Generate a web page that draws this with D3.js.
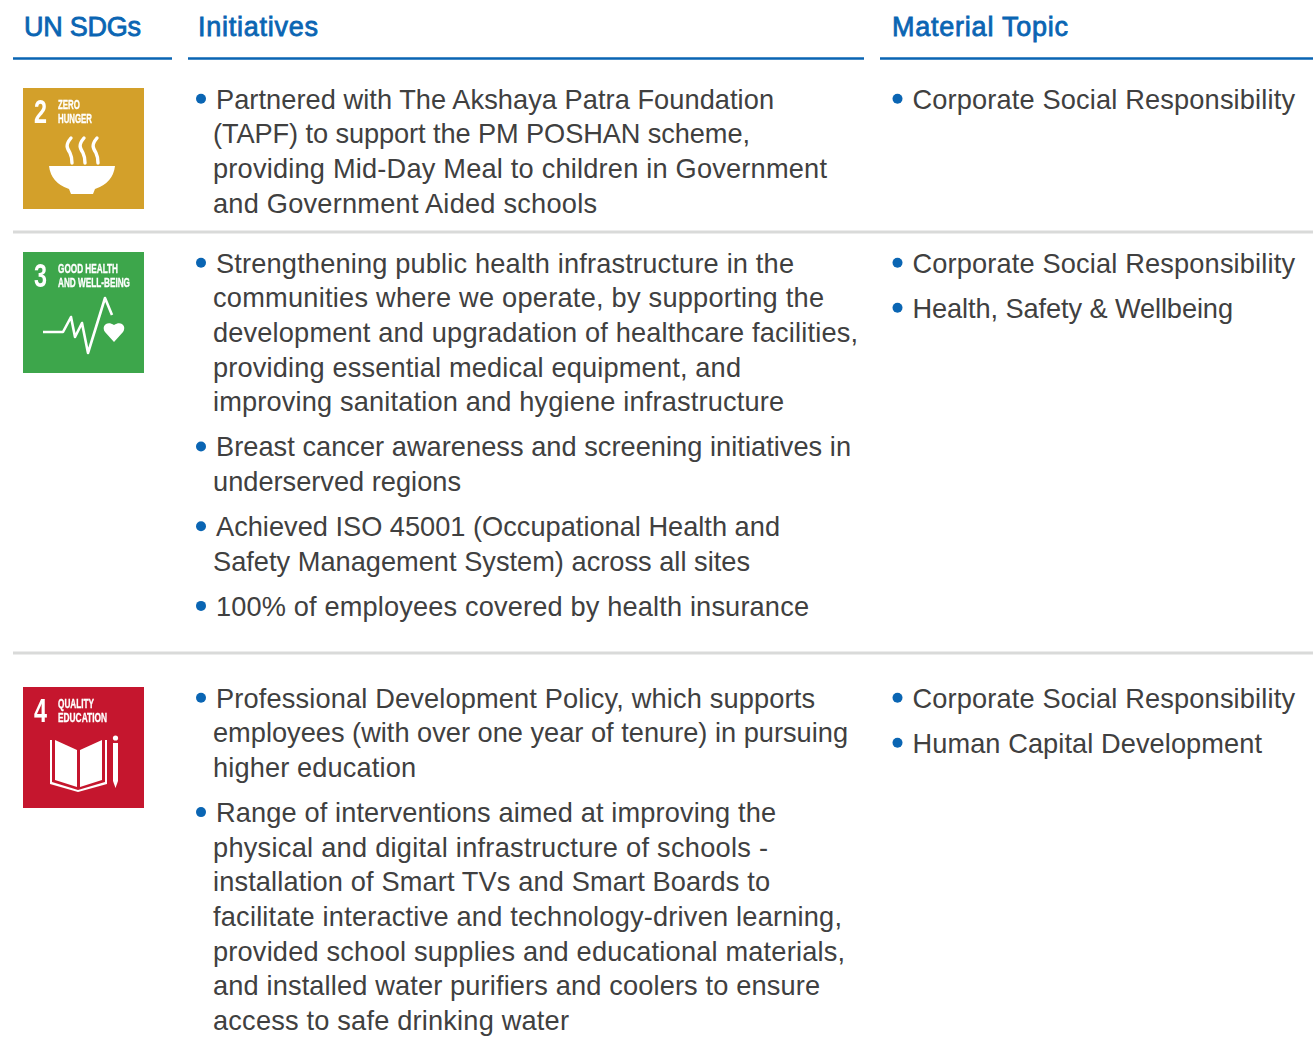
<!DOCTYPE html>
<html>
<head>
<meta charset="utf-8">
<style>
  html, body { margin: 0; padding: 0; background: #fff; }
  svg { display: block; }
  text { font-family: "Liberation Sans", Arial, sans-serif; }
</style>
</head>
<body>
<div id="chart"></div>
<script src="https://cdn.jsdelivr.net/npm/d3@7"></script>
<script>
var columns = ["UN SDGs", "Initiatives", "Material Topic"];

var sdgNumbers = ["2", "3", "4"];
var sdgTitles = [["ZERO", "HUNGER"], ["GOOD HEALTH", "AND WELL-BEING"], ["QUALITY", "EDUCATION"]];
var sdgColors = ["#d3a029", "#3ea64c", "#c5192d"];

var initiatives2 = [
    ["Partnered with The Akshaya Patra Foundation", "(TAPF) to support the PM POSHAN scheme,", "providing Mid-Day Meal to children in Government", "and Government Aided schools"]
];
var initiatives3 = [
    ["Strengthening public health infrastructure in the", "communities where we operate, by supporting the", "development and upgradation of healthcare facilities,", "providing essential medical equipment, and", "improving sanitation and hygiene infrastructure"],
    ["Breast cancer awareness and screening initiatives in", "underserved regions"],
    ["Achieved ISO 45001 (Occupational Health and", "Safety Management System) across all sites"],
    ["100% of employees covered by health insurance"]
];
var initiatives4 = [
    ["Professional Development Policy, which supports", "employees (with over one year of tenure) in pursuing", "higher education"],
    ["Range of interventions aimed at improving the", "physical and digital infrastructure of schools -", "installation of Smart TVs and Smart Boards to", "facilitate interactive and technology-driven learning,", "provided school supplies and educational materials,", "and installed water purifiers and coolers to ensure", "access to safe drinking water"]
];
var topics2 = ["Corporate Social Responsibility"];
var topics3 = ["Corporate Social Responsibility", "Health, Safety & Wellbeing"];
var topics4 = ["Corporate Social Responsibility", "Human Capital Development"];

var initiatives = [initiatives2, initiatives3, initiatives4];
var topics = [topics2, topics3, topics4];

var width = 1313, height = 1063;
var blue = "#0a65b3", ink = "#404040", rule = "#d9dad9";
var fontSize = 27.2, lineHeight = 34.7, bulletGap = 45;
var rowTop = [99, 263, 698];    // middle of the first text line in each row
var tileTop = [88, 252, 687];
var tileSize = 121;
var colStart = [13, 188, 880], colEnd = [172, 864, 1313];
var headerX = [24, 198, 892], headerWidth = [117, 120, 176];

// the source font sets a little wider or narrower line by line, so fit each line to its right edge
var lineEnd = {
    "Partnered with The Akshaya Patra Foundation": 774,
    "(TAPF) to support the PM POSHAN scheme,": 750,
    "providing Mid-Day Meal to children in Government": 827,
    "and Government Aided schools": 597,
    "Strengthening public health infrastructure in the": 794,
    "communities where we operate, by supporting the": 824,
    "development and upgradation of healthcare facilities,": 858,
    "providing essential medical equipment, and": 741,
    "improving sanitation and hygiene infrastructure": 784,
    "Breast cancer awareness and screening initiatives in": 851,
    "underserved regions": 461,
    "Achieved ISO 45001 (Occupational Health and": 780,
    "Safety Management System) across all sites": 750,
    "100% of employees covered by health insurance": 809,
    "Professional Development Policy, which supports": 815,
    "employees (with over one year of tenure) in pursuing": 848,
    "higher education": 416,
    "Range of interventions aimed at improving the": 776,
    "physical and digital infrastructure of schools -": 768,
    "installation of Smart TVs and Smart Boards to": 770,
    "facilitate interactive and technology-driven learning,": 842,
    "provided school supplies and educational materials,": 845,
    "and installed water purifiers and coolers to ensure": 820,
    "access to safe drinking water": 569,
    "Corporate Social Responsibility": 1295,
    "Health, Safety & Wellbeing": 1233,
    "Human Capital Development": 1262
};

var svg = d3.select("#chart").append("svg")
    .attr("width", width)
    .attr("height", height);

var soften = svg.append("defs").append("filter")
    .attr("id", "soften")
    .attr("x", 0).attr("y", 0).attr("width", 1).attr("height", 1);
soften.append("feGaussianBlur").attr("stdDeviation", 0.45);

// header
columns.forEach(function (name, i) {
    svg.append("text")
        .attr("x", headerX[i])
        .attr("y", 35.5)
        .attr("fill", blue)
        .attr("stroke", blue)
        .attr("stroke-width", 0.8)
        .attr("font-size", 27)
        .attr("textLength", headerWidth[i])
        .attr("lengthAdjust", "spacing")
        .text(name);
    svg.append("line")
        .attr("x1", colStart[i]).attr("x2", colEnd[i])
        .attr("y1", 58.5).attr("y2", 58.5)
        .attr("stroke", blue)
        .attr("stroke-width", 2.4);
});

[232, 653].forEach(function (y) {
    svg.append("line")
        .attr("x1", 13).attr("x2", width)
        .attr("y1", y).attr("y2", y)
        .attr("stroke", rule)
        .attr("stroke-width", 3);
});

// bullets with wrapped lines; first line sits right of the dot
function bulletList(items, x, top) {
    var y = top;
    items.forEach(function (lines) {
        svg.append("circle")
            .attr("cx", x + 5).attr("cy", y - 0.3)
            .attr("r", 5)
            .attr("fill", blue);
        lines.forEach(function (line, j) {
            var lineX = x + (j == 0 ? 20 : 17);
            svg.append("text")
                .attr("x", lineX)
                .attr("y", y + 9.5 + j * lineHeight)
                .attr("fill", ink)
                .attr("font-size", fontSize)
                .attr("textLength", lineEnd[line] - lineX)
                .attr("lengthAdjust", "spacing")
                .text(line);
        });
        y += (lines.length - 1) * lineHeight + bulletGap;
    });
}

rowTop.forEach(function (top, i) {
    bulletList(initiatives[i], 196, top);
    bulletList(topics[i].map(function (t) { return [t]; }), 892.5, top);
});

// SDG tiles
var tile = svg.selectAll(".tile")
    .data(sdgNumbers)
    .enter().append("g")
    .attr("class", "tile")
    .attr("transform", function (d, i) { return "translate(23," + tileTop[i] + ")"; })
    .attr("filter", "url(#soften)");

tile.append("rect")
    .attr("width", tileSize)
    .attr("height", tileSize)
    .attr("fill", function (d, i) { return sdgColors[i]; });

tile.append("text")
    .attr("x", 11).attr("y", 35)
    .attr("fill", "#fff")
    .attr("font-size", 33)
    .attr("font-weight", "bold")
    .attr("textLength", 13)
    .attr("lengthAdjust", "spacingAndGlyphs")
    .text(function (d) { return d; });

var titleWidths = [[22, 34], [60, 72], [36, 49]];
tile.each(function (d, i) {
    var g = d3.select(this);
    sdgTitles[i].forEach(function (t, j) {
        g.append("text")
            .attr("x", 35)
            .attr("y", j == 0 ? 21 : 35)
            .attr("fill", "#fff")
            .attr("stroke", "#fff")
            .attr("stroke-width", 0.35)
            .attr("font-size", 13.5)
            .attr("font-weight", "bold")
            .attr("textLength", titleWidths[i][j])
            .attr("lengthAdjust", "spacingAndGlyphs")
            .text(t);
    });
});

// icon for goal 2: bowl and steam
var bowl = d3.select(tile.nodes()[0]);
bowl.append("path")
    .attr("d", "M26,78H92Q90,95 72,101L70,106H48L46,101Q28,95 26,78Z")
    .attr("fill", "#fff");
bowl.selectAll(".steam")
    .data([45, 58, 71])
    .enter().append("path")
    .attr("d", function (d) {
        return "M" + (d + 3) + ",50C" + (d - 3) + ",57 " + (d - 1) + ",60 " + (d + 2) + ",65C" + (d + 4) + ",69 " + (d + 4) + ",71 " + (d + 4) + ",75";
    })
    .attr("fill", "none")
    .attr("stroke", "#fff")
    .attr("stroke-width", 3.4)
    .attr("stroke-linecap", "round");

// icon for goal 3: pulse and heart
var pulse = d3.select(tile.nodes()[1]);
pulse.append("path")
    .attr("d", "M20,80H40L48,65L52,85L59,71L65,101L82,46L89,63")
    .attr("fill", "none")
    .attr("stroke", "#fff")
    .attr("stroke-width", 2.6)
    .attr("stroke-linejoin", "round");
pulse.append("path")
    .attr("d", "M91,90L82,80C78,74 84,68 91,73C98,68 104,74 100,80Z")
    .attr("fill", "#fff");

// icon for goal 4: open book and pencil
var book = d3.select(tile.nodes()[2]);
book.append("path")
    .attr("d", "M27,53V97L55,105L84,97V53H82V95L55,103L29,95V53Z")
    .attr("fill", "#fff");
book.append("path")
    .attr("d", "M32,53L54,63V100L32,93Z M79,53L57,63V100L79,93Z")
    .attr("fill", "#fff");
book.append("path")
    .attr("d", "M90,56H95V94L92.5,101L90,94Z")
    .attr("fill", "#fff");
book.append("circle")
    .attr("cx", 92.5).attr("cy", 51).attr("r", 2.6)
    .attr("fill", "#fff");
</script>
</body>
</html>
